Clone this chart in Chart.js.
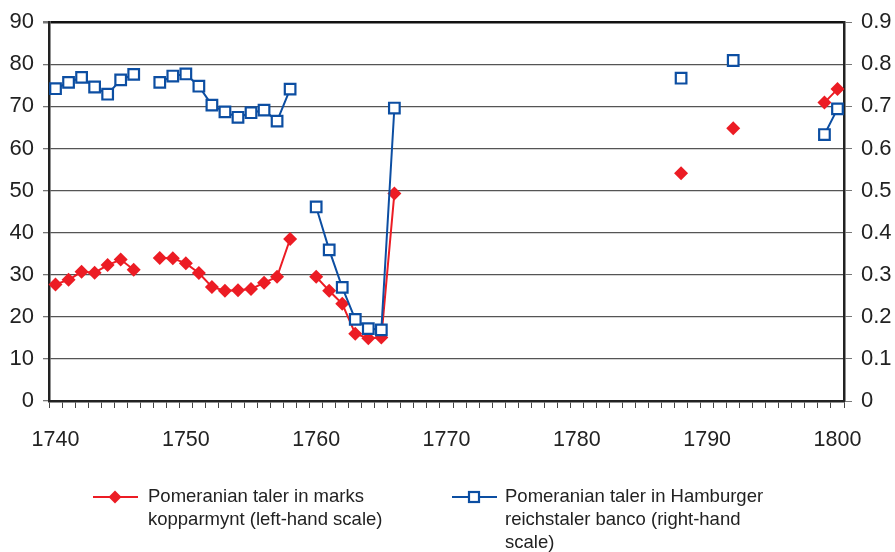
<!DOCTYPE html>
<html>
<head>
<meta charset="utf-8">
<script src="https://cdn.jsdelivr.net/npm/chart.js@4/dist/chart.umd.min.js"></script>
<style>
  html, body { margin: 0; padding: 0; background: #fff; }
  #wrap { position: relative; width: 895px; height: 552px; }
</style>
</head>
<body>
<div id="wrap"><canvas id="chart"></canvas></div>
<script>
(function () {
  'use strict';

  // years 1740..1800, one category per year
  var years = [];
  for (var y = 1740; y <= 1800; y++) years.push(String(y));

  // marks kopparmynt per Pomeranian taler (left scale), by year
  var marksYears = [1740, 1741, 1742, 1743, 1744, 1745, 1746, 1748, 1749, 1750, 1751, 1752, 1753, 1754, 1755, 1756, 1757, 1758,
                    1760, 1761, 1762, 1763, 1764, 1765, 1766, 1788, 1792, 1799, 1800];
  var marksValues = [27.7, 28.8, 30.7, 30.5, 32.3, 33.6, 31.2, 34.0, 33.9, 32.7, 30.4, 27.1, 26.2, 26.3, 26.6, 28.1, 29.5, 38.5,
                     29.5, 26.2, 23.1, 16.0, 14.9, 15.1, 49.3, 54.1, 64.8, 70.9, 74.1];

  // Hamburger reichstaler banco per Pomeranian taler (right scale), by year
  var bancoYears = [1740, 1741, 1742, 1743, 1744, 1745, 1746, 1748, 1749, 1750, 1751, 1752, 1753, 1754, 1755, 1756, 1757, 1758,
                    1760, 1761, 1762, 1763, 1764, 1765, 1766, 1788, 1792, 1799, 1800];
  var bancoValues = [0.742, 0.757, 0.769, 0.746, 0.729, 0.763, 0.776, 0.757, 0.772, 0.777, 0.748, 0.703, 0.687, 0.674, 0.685, 0.691, 0.665, 0.741,
                     0.461, 0.359, 0.270, 0.194, 0.172, 0.169, 0.696, 0.767, 0.809, 0.633, 0.694];

  var labelMarks = ['Pomeranian taler in marks', 'kopparmynt (left-hand scale)'];
  var labelBanco = ['Pomeranian taler in Hamburger', 'reichstaler banco (right-hand', 'scale)'];

  var RED = '#ec1c24';
  var BLUE = '#0c4ea2';
  var FONT = "'Liberation Sans', Arial, sans-serif";

  function byYear(ys, vals) {
    var out = years.map(function () { return null; });
    ys.forEach(function (yr, i) { out[yr - 1740] = vals[i]; });
    return out;
  }

  function drawMarker(ctx, style, x, y, color) {
    ctx.save();
    if (style === 'diamond') {
      var r = 6.5;
      ctx.fillStyle = color;
      ctx.beginPath();
      ctx.moveTo(x, y - r); ctx.lineTo(x + r, y); ctx.lineTo(x, y + r); ctx.lineTo(x - r, y);
      ctx.closePath();
      ctx.fill();
    } else {
      var s = 5;
      ctx.fillStyle = '#fff';
      ctx.strokeStyle = color;
      ctx.lineWidth = 2.2;
      ctx.fillRect(x - s, y - s, 2 * s, 2 * s);
      ctx.strokeRect(x - s, y - s, 2 * s, 2 * s);
    }
    ctx.restore();
  }

  // legend drawn below the x axis, each item with wrapped text lines
  var legendPlugin = {
    id: 'splitLegend',
    afterDraw: function (chart) {
      var ctx = chart.ctx;
      var items = [
        { x: 93, textX: 148, ds: chart.data.datasets[0], marker: 'diamond' },
        { x: 452, textX: 505, ds: chart.data.datasets[1], marker: 'square' }
      ];
      var top = 497, lh = 23;
      ctx.save();
      ctx.font = '18.5px ' + FONT;
      ctx.fillStyle = '#222';
      ctx.textBaseline = 'middle';
      items.forEach(function (it) {
        ctx.strokeStyle = it.ds.borderColor;
        ctx.lineWidth = 2;
        ctx.beginPath();
        ctx.moveTo(it.x, top);
        ctx.lineTo(it.x + 45, top);
        ctx.stroke();
        drawMarker(ctx, it.marker, it.x + 22, top, it.ds.borderColor);
        it.ds.label.forEach(function (line, i) {
          ctx.fillText(line, it.textX, top + i * lh);
        });
      });
      ctx.restore();
    }
  };

  var el = document.getElementById('chart');
  new Chart(el, {
    type: 'line',
    data: {
      labels: years,
      datasets: [
        {
          label: labelMarks,
          data: byYear(marksYears, marksValues),
          yAxisID: 'yLeft',
          borderColor: RED,
          backgroundColor: RED,
          borderWidth: 2,
          pointStyle: 'rectRot',
          pointRadius: 7,
          pointBorderWidth: 0,
          pointBackgroundColor: RED,
          spanGaps: false,
          order: 1
        },
        {
          label: labelBanco,
          data: byYear(bancoYears, bancoValues),
          yAxisID: 'yRight',
          borderColor: BLUE,
          backgroundColor: '#fff',
          borderWidth: 2,
          pointStyle: 'rect',
          pointRadius: 7.5,
          pointBorderWidth: 2.2,
          pointBackgroundColor: '#fff',
          pointBorderColor: BLUE,
          spanGaps: false,
          order: 0
        }
      ]
    },
    options: {
      responsive: true,
      maintainAspectRatio: false,
      animation: false,
      layout: { padding: { top: 17, bottom: 91, left: 0, right: 0 } },
      plugins: {
        legend: { display: false },
        tooltip: { enabled: false }
      },
      scales: {
        x: {
          type: 'category',
          offset: true,
          grid: {
            offset: true,
            drawOnChartArea: false,
            drawTicks: true,
            tickLength: 7,
            color: '#444',
            lineWidth: 1
          },
          border: { color: '#222', width: 2.5 },
          ticks: {
            autoSkip: false,
            maxRotation: 0,
            padding: 19,
            color: '#222',
            font: { family: FONT, size: 21.5 },
            callback: function (v, i) {
              var lab = years[i];
              return Number(lab) % 10 === 0 ? lab : '';
            }
          },
          afterFit: function (s) { s.height = 60; }
        },
        yLeft: {
          type: 'linear',
          position: 'left',
          min: 0,
          max: 90,
          ticks: {
            stepSize: 10,
            padding: 9,
            color: '#222',
            font: { family: FONT, size: 22 }
          },
          grid: {
            color: function (c) { return c.tick && c.tick.value === 90 ? '#111' : '#555'; },
            lineWidth: function (c) { return c.tick && c.tick.value === 90 ? 2.5 : 1.3; },
            tickLength: 6,
            tickColor: '#777'
          },
          border: { color: '#222', width: 2.5 },
          afterFit: function (s) { s.width = 49; }
        },
        yRight: {
          type: 'linear',
          position: 'right',
          min: 0,
          max: 0.9,
          ticks: {
            stepSize: 0.1,
            padding: 9,
            color: '#222',
            font: { family: FONT, size: 22 }
          },
          grid: {
            drawOnChartArea: false,
            tickLength: 8,
            color: '#777'
          },
          border: { color: '#222', width: 2.5 },
          afterFit: function (s) { s.width = 51; }
        }
      }
    },
    plugins: [legendPlugin]
  });
})();
</script>
</body>
</html>
